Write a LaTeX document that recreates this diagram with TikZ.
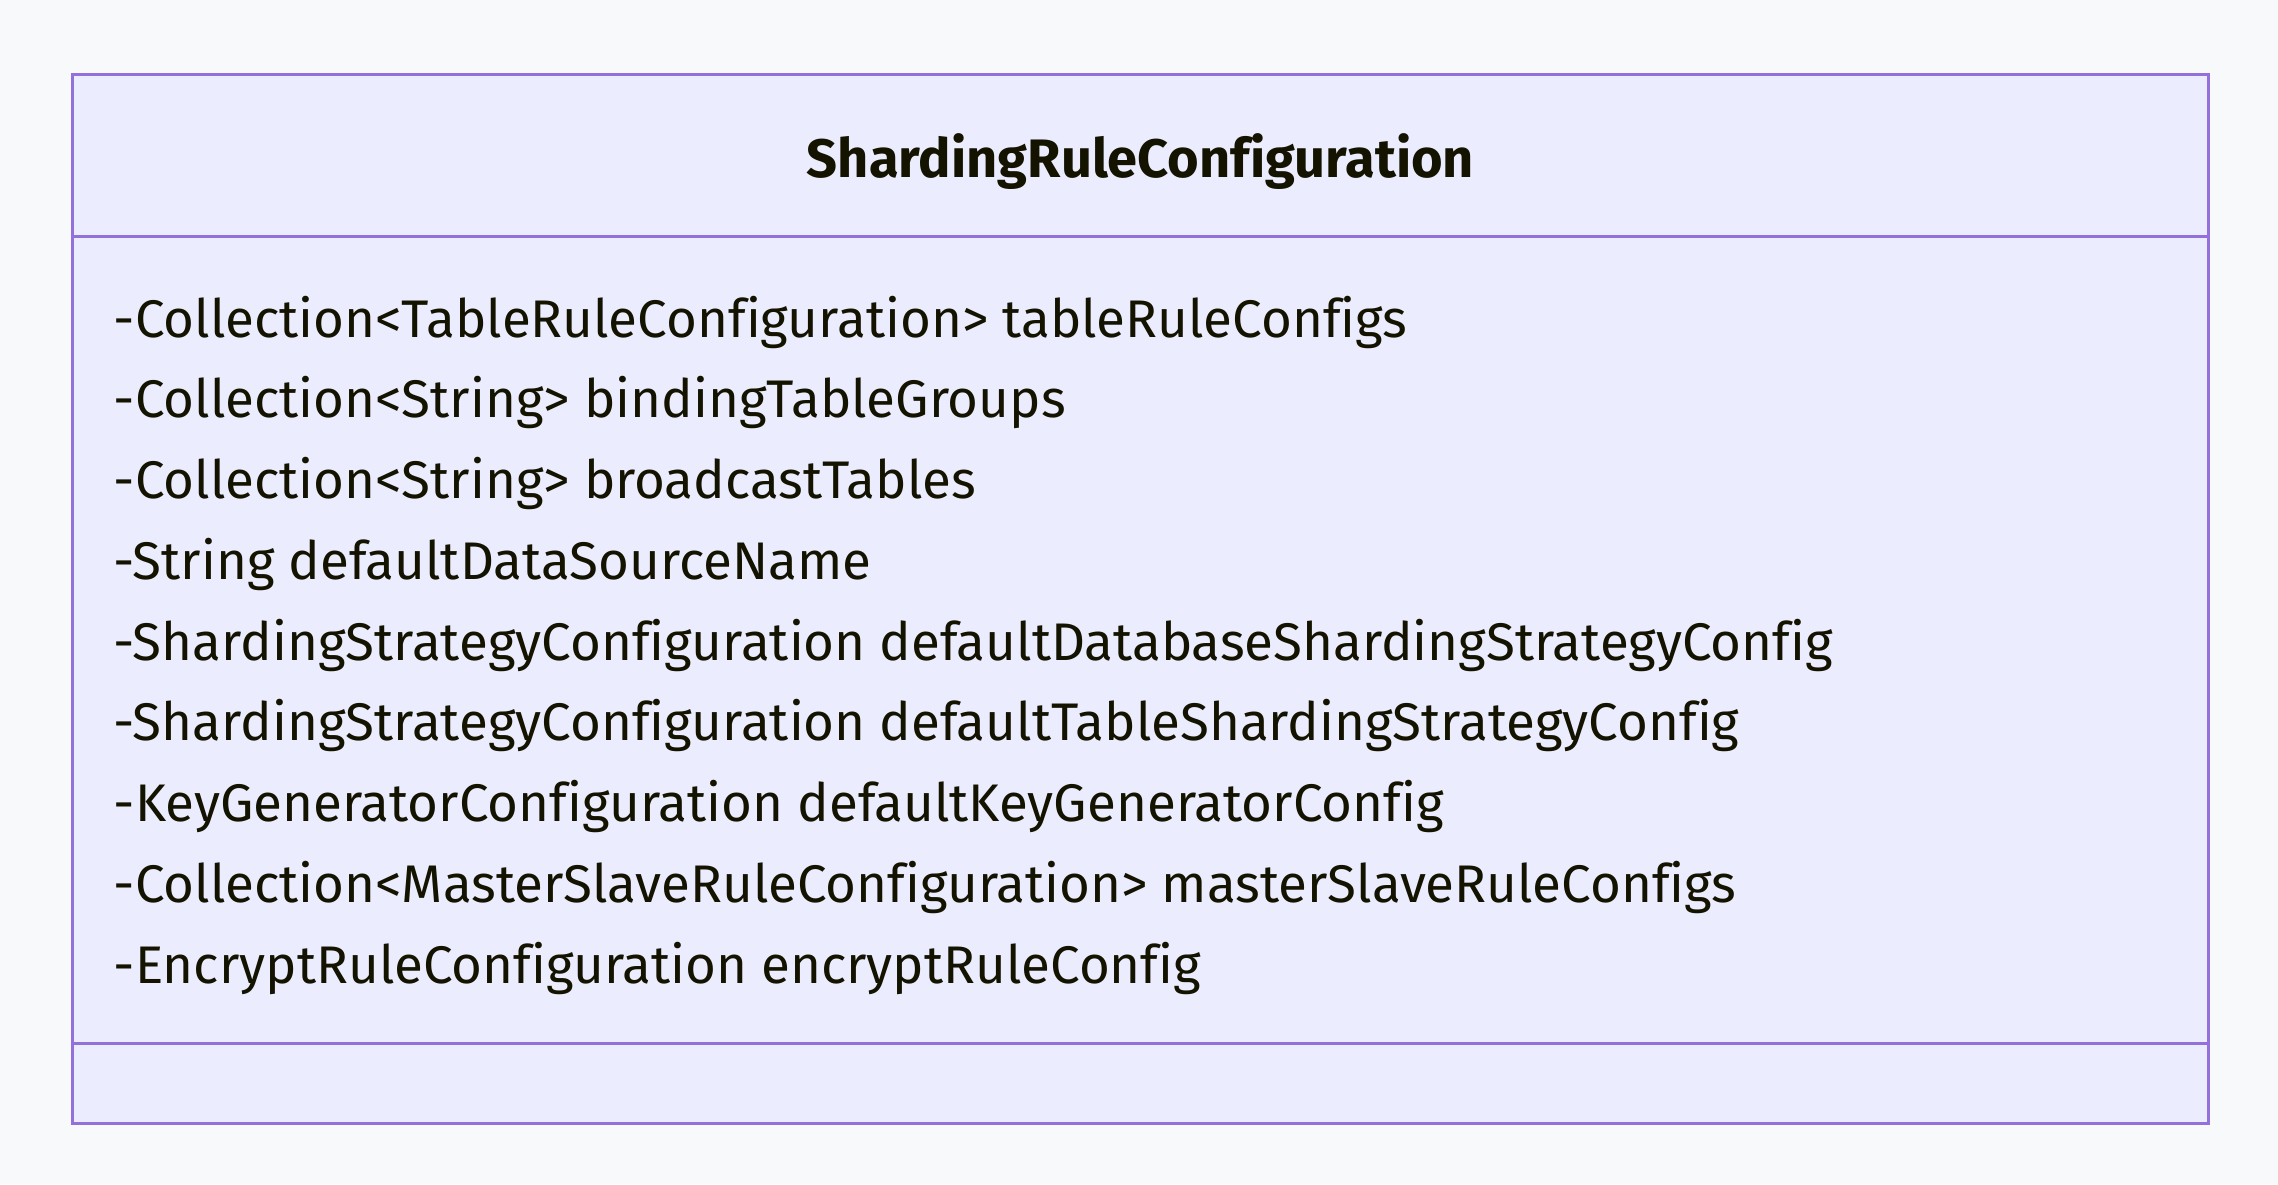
\documentclass[tikz,border=0pt]{standalone}
\usepackage{fontspec}
\setmainfont{Fira Sans}[Ligatures=NoCommon]
\usetikzlibrary{positioning}

\definecolor{pagebg}{HTML}{F8F9FA}
\definecolor{classfill}{HTML}{ECECFF}
\definecolor{classline}{HTML}{9370DB}
\definecolor{classtext}{HTML}{131300}

\begin{document}
\begin{tikzpicture}[
    x=0.01cm, y=-0.01cm,
    font=\fontsize{15.05}{18}\selectfont,
    classbox/.style = {draw=classline, fill=classfill, line width=0.85pt},
    divider/.style = {draw=classline, line width=0.85pt},
    title/.style = {text=classtext, font=\fontsize{15.4}{18}\selectfont\bfseries, inner sep=0pt},
    attr/.style = {text=classtext, anchor=base west, inner sep=0pt}
]

% background and page size
\fill[pagebg] (0,0) rectangle (2278,1184);
\useasboundingbox (0,0) rectangle (2278,1184);

% class outline
\coordinate (nw) at (72.5,74);
\coordinate (se) at (2208.5,1123);
\path[classbox] (nw) rectangle (se);

% compartments
\coordinate (headl) at (72.5,236);
\coordinate (headr) at (2208.5,236);
\coordinate (methl) at (72.5,1043);
\coordinate (methr) at (2208.5,1043);
\draw[divider] (headl) -- (headr);
\draw[divider] (methl) -- (methr);

% class name
\node[title] (classname) at (1140.5,162) {ShardingRuleConfiguration};

% attributes
\node[attr] (tablerules) at (113,337) {-Collection<TableRuleConfiguration> tableRuleConfigs};
\node[attr] (bindinggroups) at (113,417.75) {-Collection<String> bindingTableGroups};
\node[attr] (broadcast) at (113,498.5) {-Collection<String> broadcastTables};
\node[attr] (defaultds) at (113,579.25) {-String defaultDataSourceName};
\node[attr] (defaultdbstrategy) at (113,660) {-ShardingStrategyConfiguration defaultDatabaseShardingStrategyConfig};
\node[attr] (defaulttablestrategy) at (113,740.75) {-ShardingStrategyConfiguration defaultTableShardingStrategyConfig};
\node[attr] (defaultkeygen) at (113,821.5) {-KeyGeneratorConfiguration defaultKeyGeneratorConfig};
\node[attr] (masterslave) at (113,902.25) {-Collection<MasterSlaveRuleConfiguration> masterSlaveRuleConfigs};
\node[attr] (encrypt) at (113,983) {-EncryptRuleConfiguration encryptRuleConfig};

\end{tikzpicture}
\end{document}
